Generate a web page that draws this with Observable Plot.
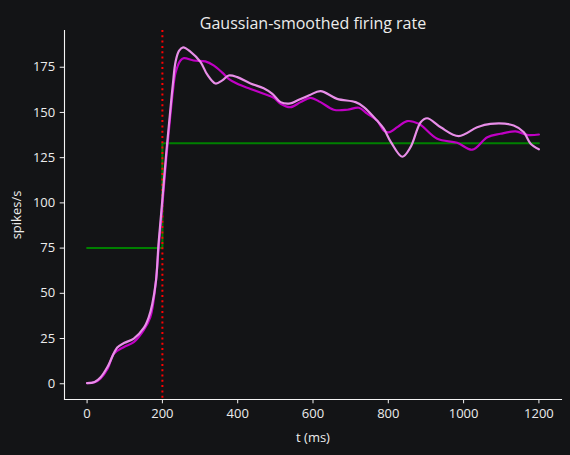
<!DOCTYPE html>
<html>
<head>
<meta charset="utf-8">
<script src="https://cdn.jsdelivr.net/npm/d3@7"></script>
<script src="https://cdn.jsdelivr.net/npm/@observablehq/plot@0.6"></script>
<style>
  html, body { margin: 0; padding: 0; background: #131416; }
</style>
</head>
<body>
<div id="chart"></div>
<script>
// ---- data ----
const title = "Gaussian-smoothed firing rate";
const xLabel = "t (ms)";
const yLabel = "spikes/s";
const xTicks = [0, 200, 400, 600, 800, 1000, 1200];
const yTicks = [0, 25, 50, 75, 100, 125, 150, 175];
const xDomain = [-60, 1260];
const yDomain = [-8.7, 195.3];
const stimOnset = 200;

// step (trial-average) line
const stepTimes = [0, 200, 1200];
const stepRates = [75, 133, 133];

// dark magenta curve
const darkTimes = [0, 20, 36, 55, 71, 97, 124, 150, 168, 182, 190, 200, 210, 220, 228, 235, 248, 257, 283, 314, 336, 359, 376, 399, 434, 469, 496, 514, 540, 567, 593, 620, 655, 691, 722, 744, 770, 788, 801, 825, 850, 881, 930, 983, 1023, 1063, 1098, 1138, 1169, 1200];
const darkRates = [0.3, 0.8, 3.0, 8.5, 16.6, 20.2, 23.0, 29.5, 36.8, 55, 75, 99, 124, 146, 162, 172, 178.7, 180, 178.7, 178.2, 176, 172, 168.6, 165.8, 163, 160.3, 158.1, 154.8, 152.9, 155.7, 158.1, 155.7, 151.5, 151.5, 152.6, 149.3, 145.5, 140, 139, 142, 145.2, 143.7, 135.4, 133.2, 129.4, 136.3, 138.2, 139.5, 137.6, 137.8];

// light violet curve
const lightTimes = [0, 20, 36, 55, 80, 98, 124, 151, 164, 173, 183, 190, 200, 210, 220, 228, 235, 244, 255, 275, 301, 319, 341, 359, 376, 399, 434, 469, 492, 514, 540, 558, 590, 620, 664, 713, 735, 770, 788, 807, 837, 859, 886, 903, 939, 987, 1036, 1071, 1133, 1160, 1178, 1200];
const lightRates = [0.3, 1.0, 3.6, 9.6, 20, 22.5, 25, 31, 37, 44, 57, 78, 102, 127, 149, 166, 178, 184, 186, 183.5, 178, 171, 166, 167.7, 170.4, 169.5, 166, 163.4, 160.3, 155.7, 155, 156.6, 159.5, 161.8, 157.5, 155.7, 153, 145.5, 141, 133.6, 125.5, 130.8, 144.6, 146.8, 141.8, 136.9, 141.8, 143.7, 142.8, 139, 132.7, 129.6];

// ---- tables built from the arrays ----
const stepData = stepTimes.map((t, i) => ({t, v: stepRates[i]}));
const darkData = darkTimes.map((t, i) => ({t, v: darkRates[i]}));
const lightData = lightTimes.map((t, i) => ({t, v: lightRates[i]}));

const fg = "#ececec";
const spine = "#f4f4f4";
const plain = d => String(d);

const chart = Plot.plot({
  width: 570,
  height: 455,
  marginTop: 30,
  marginBottom: 56,
  marginLeft: 64,
  marginRight: 9,
  style: {background: "#131416", color: fg, fontFamily: "'Open Sans', sans-serif", fontSize: "13px"},
  x: {domain: xDomain},
  y: {domain: yDomain},
  marks: [
    Plot.frame({anchor: "left", stroke: spine, strokeWidth: 1.1}),
    Plot.frame({anchor: "bottom", stroke: spine, strokeWidth: 1.1}),
    Plot.axisX({ticks: xTicks, tickFormat: plain, tickSize: 4.3, tickPadding: 5, stroke: spine, fill: fg,
      label: xLabel, labelAnchor: "center", labelArrow: "none", labelOffset: 42, fontSize: 13}),
    Plot.axisY({ticks: yTicks, tickFormat: plain, tickSize: 4.3, tickPadding: 5, stroke: spine, fill: fg,
      label: yLabel, labelAnchor: "center", labelArrow: "none", labelOffset: 53, fontSize: 13}),
    Plot.line(stepData, {x: "t", y: "v", curve: "step-after", stroke: "#008000", strokeWidth: 2}),
    Plot.ruleX([stimOnset], {stroke: "#ff0000", strokeWidth: 2, strokeDasharray: "2,3.3"}),
    Plot.line(darkData, {x: "t", y: "v", curve: "catmull-rom", stroke: "#c000c4", strokeWidth: 2.2}),
    Plot.line(lightData, {x: "t", y: "v", curve: "catmull-rom", stroke: "#e88ee8", strokeWidth: 2.2}),
    Plot.text([title], {frameAnchor: "top", dy: -13, fontSize: 16, fill: fg})
  ]
});
document.getElementById("chart").appendChild(chart);
</script>
</body>
</html>
